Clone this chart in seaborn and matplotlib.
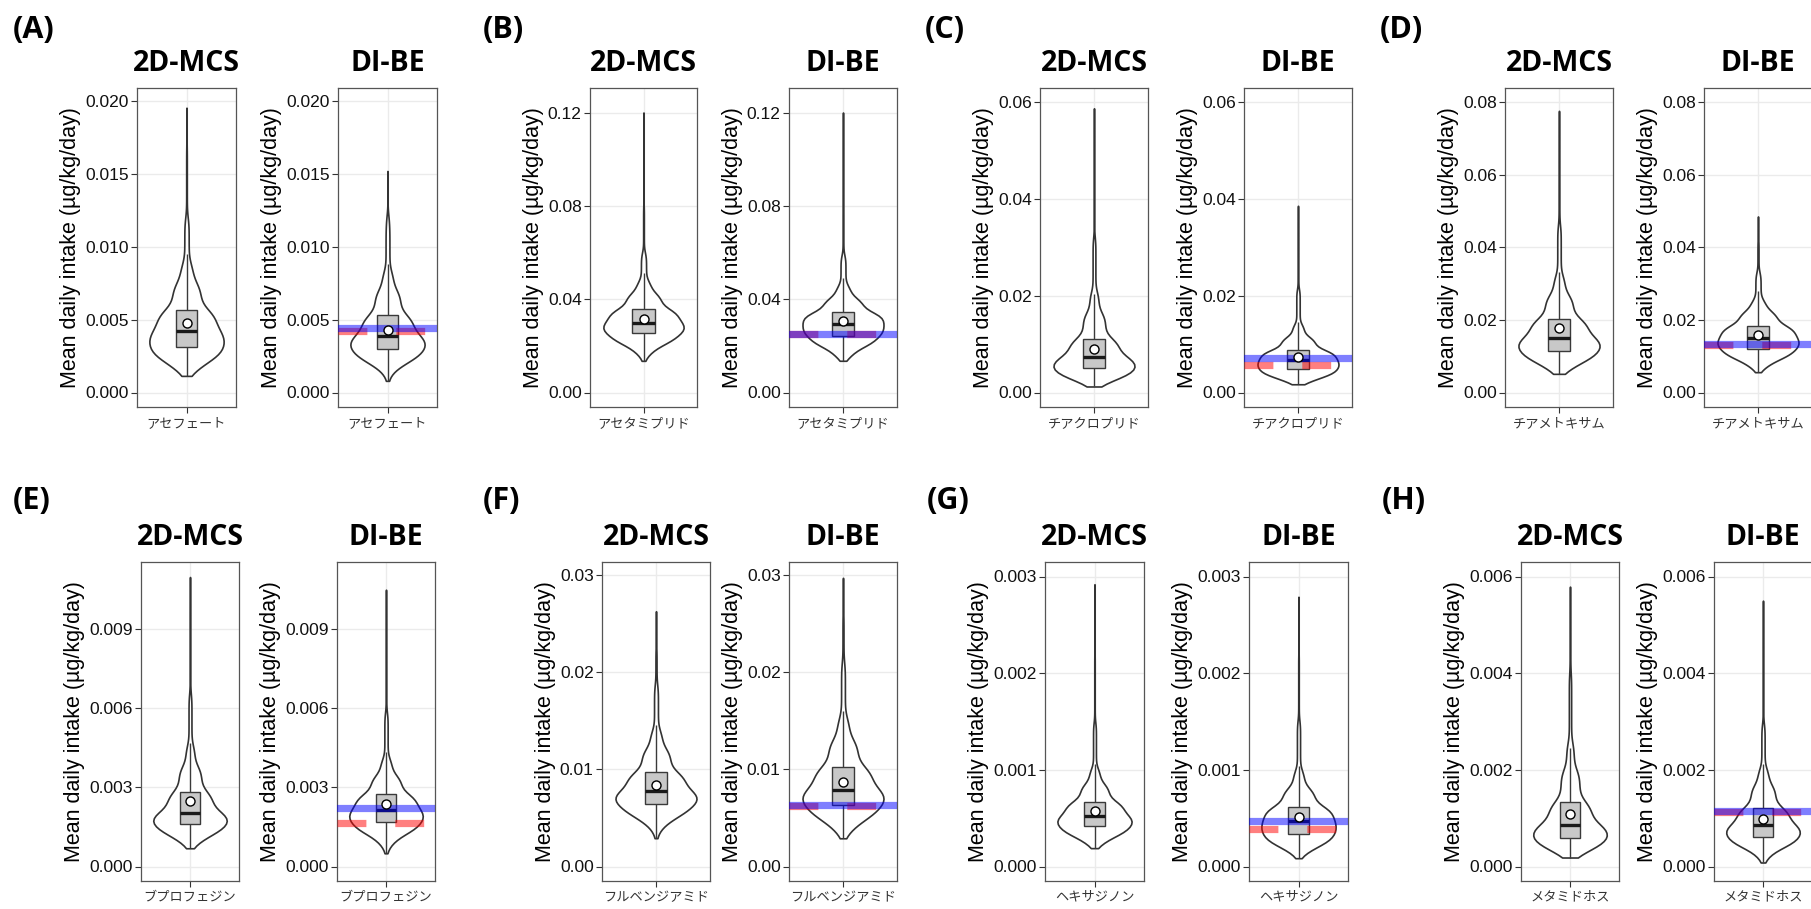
import numpy as np
import pandas as pd
import matplotlib
matplotlib.use("Agg")
import matplotlib.pyplot as plt
import seaborn as sns
from matplotlib.ticker import FixedLocator, FixedFormatter

sns.set_theme(style="ticks")
plt.rcParams["font.family"] = ["Liberation Sans", "Noto Sans CJK JP", "DejaVu Sans"]
plt.rcParams["text.color"] = "black"

# ---------------- data ----------------
panel_labels = ["(A)", "(B)", "(C)", "(D)", "(E)", "(F)", "(G)", "(H)"]
pesticides = ["アセフェート", "アセタミプリド", "チアクロプリド", "チアメトキサム",
              "ブプロフェジン", "フルベンジアミド", "ヘキサジノン", "メタミドホス"]
method_titles = ["2D-MCS", "DI-BE"]

# quantile levels at which the distribution values were read
quantile_levels = [0.0, 0.01, 0.05, 0.10, 0.25, 0.50, 0.75, 0.90, 0.95, 0.99, 0.999, 1.0]

mcs_quantiles = [
    [0.00114, 0.00148, 0.00201, 0.00237, 0.00309, 0.00421, 0.00567, 0.00749, 0.00883, 0.0120, 0.0169, 0.01954],
    [0.01357, 0.01657, 0.01972, 0.02163, 0.0253, 0.0300, 0.0357, 0.0424, 0.0476, 0.0600, 0.0800, 0.1200],
    [0.00124, 0.00197, 0.00288, 0.00352, 0.00495, 0.00722, 0.01113, 0.0164, 0.0207, 0.0320, 0.0522, 0.0586],
    [0.00514, 0.00608, 0.00793, 0.00913, 0.01157, 0.01506, 0.0203, 0.0268, 0.0321, 0.0461, 0.0620, 0.0776],
    [0.00069, 0.000883, 0.00113, 0.00129, 0.0016, 0.00204, 0.00283, 0.00378, 0.00457, 0.00653, 0.0093, 0.01095],
    [0.00291, 0.00402, 0.00486, 0.00539, 0.00641, 0.00771, 0.00967, 0.01207, 0.01394, 0.01866, 0.0225, 0.02623],
    [0.00019, 0.000232, 0.000295, 0.000335, 0.000414, 0.000524, 0.000672, 0.000853, 0.00101, 0.00149, 0.0022, 0.00292],
    [0.000186, 0.000251, 0.00036, 0.000436, 0.0006, 0.00086, 0.00134, 0.0020, 0.00255, 0.0040, 0.0052, 0.00579],
]
dibe_quantiles = [
    [0.0008, 0.00153, 0.00202, 0.00233, 0.00297, 0.00389, 0.0053, 0.00701, 0.00829, 0.01134, 0.0122, 0.0152],
    [0.0136, 0.01538, 0.01858, 0.02055, 0.0243, 0.0293, 0.0343, 0.0404, 0.0457, 0.0589, 0.0800, 0.1200],
    [0.0017, 0.00213, 0.00298, 0.00356, 0.0048, 0.00667, 0.00873, 0.01143, 0.0140, 0.0213, 0.0300, 0.0385],
    [0.0056, 0.00696, 0.00872, 0.00982, 0.0120, 0.0150, 0.0184, 0.0223, 0.0254, 0.0331, 0.0420, 0.0485],
    [0.0005, 0.000844, 0.00115, 0.00133, 0.00167, 0.00214, 0.00273, 0.00344, 0.00406, 0.00582, 0.0082, 0.01047],
    [0.0029, 0.00366, 0.00459, 0.00517, 0.00634, 0.00789, 0.01022, 0.0130, 0.01523, 0.02095, 0.0260, 0.02966],
    [0.000086, 0.000148, 0.000207, 0.000249, 0.000338, 0.000472, 0.00062, 0.000809, 0.00099, 0.00151, 0.0022, 0.00279],
    [0.000083, 0.00022, 0.000378, 0.000453, 0.00062, 0.00086, 0.00122, 0.00168, 0.00202, 0.00295, 0.0045, 0.0055],
]
mcs_means = [0.00475, 0.0317, 0.00893, 0.01773, 0.00248, 0.0084, 0.000579, 0.00109]
dibe_means = [0.0043, 0.0307, 0.00722, 0.0159, 0.00237, 0.00864, 0.000517, 0.00099]
red_values = [0.0042, 0.0251, 0.0057, 0.0131, 0.00166, 0.00617, 0.000393, 0.00113]
blue_values = [0.0044, 0.0251, 0.0072, 0.0134, 0.00222, 0.00634, 0.000466, 0.00115]

y_max = [0.0199, 0.1243, 0.0598, 0.0799, 0.01097, 0.0298, 0.0030, 0.0060]
y_ticks = [
    [0.000, 0.005, 0.010, 0.015, 0.020],
    [0.00, 0.04, 0.08, 0.12],
    [0.00, 0.02, 0.04, 0.06],
    [0.00, 0.02, 0.04, 0.06, 0.08],
    [0.000, 0.003, 0.006, 0.009],
    [0.00, 0.01, 0.02, 0.03],
    [0.000, 0.001, 0.002, 0.003],
    [0.000, 0.002, 0.004, 0.006],
]
y_decimals = [3, 2, 2, 2, 3, 2, 3, 3]
y_label = "Mean daily intake (µg/kg/day)"

# ---------------- layout (pixels of a 1811x909 canvas) ----------------
W, H = 1811, 909
# per group: (mcs_left, mcs_right, dibe_left, dibe_right)
x_layout = [
    (137, 236, 338, 437), (590, 697, 789, 897), (1040, 1148, 1244, 1352), (1505, 1613, 1704, 1812),
    (141, 239, 337, 435), (602, 710, 789, 897), (1045, 1144, 1249, 1348), (1521, 1619, 1714, 1812),
]
row_y = [(88, 407), (562, 881)]
label_pos = [(13, 30), (483, 30), (925, 30), (1380, 30),
             (13, 501), (483, 501), (927, 501), (1382, 501)]

N_SAMPLE = 4001
N_EFF = 500
probs = np.linspace(0, 1, N_SAMPLE)


def sample_from_quantiles(q):
    return np.interp(probs, quantile_levels, q)


def bw_factor(v):
    sd = v.std(ddof=1)
    iqr = np.subtract(*np.percentile(v, [75, 25]))
    return 0.9 * min(sd, iqr / 1.34) * N_EFF ** -0.2 / sd


fig = plt.figure(figsize=(W / 100, H / 100), dpi=100)


def px_axes(l, r, t, b):
    return fig.add_axes([l / W, 1 - b / H, (r - l) / W, (b - t) / H])


def draw_panel(ax, name, q, mean, g, title, red=None, blue=None):
    vals = sample_from_quantiles(q)
    df = pd.DataFrame({"pesticide": [name] * len(vals), "value": vals})
    sns.violinplot(data=df, x="pesticide", y="value", ax=ax, color="white",
                   linecolor="#333333", linewidth=1.2, inner=None, cut=0,
                   width=0.9, bw_method=bw_factor(vals), density_norm="width",
                   saturation=1)
    sns.boxplot(data=df, x="pesticide", y="value", ax=ax, width=0.25,
                color="#C8C8C8", linecolor="#3A3A3A", linewidth=1.0,
                showfliers=False, showcaps=False, saturation=1,
                medianprops=dict(color="#1A1A1A", linewidth=2.4))
    if red is not None:
        ax.axhline(red, color="red", alpha=0.5, lw=5.2, dashes=(4, 4), zorder=5)
    if blue is not None:
        ax.axhline(blue, color="blue", alpha=0.5, lw=5.2, zorder=6)
    sns.pointplot(x=[name], y=[mean], ax=ax, color="black", markers="o",
                  errorbar=None, linestyle="none", markersize=6.5,
                  markerfacecolor="white", markeredgewidth=1.0, zorder=10)

    ymax = y_max[g]
    ax.set_xlim(-0.6, 0.6)
    ax.set_ylim(-0.05 * ymax, 1.05 * ymax)
    ax.yaxis.set_major_locator(FixedLocator(y_ticks[g]))
    ax.yaxis.set_major_formatter(FixedFormatter([f"{t:.{y_decimals[g]}f}" for t in y_ticks[g]]))
    ax.set_xticks([0])
    ax.set_xticklabels([name], fontsize=9.5, family=["Noto Sans CJK JP"], color="#222222")
    ax.set_xlabel("")
    ax.set_ylabel(y_label, fontsize=15.5, color="black", labelpad=3)
    ax.tick_params(axis="y", labelsize=12.5, colors="#333333", labelcolor="#111111",
                   length=4, width=0.8, pad=2)
    ax.tick_params(axis="x", colors="#333333", length=4, width=0.8, pad=3)
    ax.grid(True, color="#EBEBEB", linewidth=1.0)
    ax.set_axisbelow(True)
    for s in ax.spines.values():
        s.set_visible(True)
        s.set_color("#555555")
        s.set_linewidth(0.9)
    ax.set_title(title, fontsize=20.5, fontweight="bold", family=["Open Sans"],
                 color="black", pad=12)


for g in range(8):
    l1, r1, l2, r2 = x_layout[g]
    t, b = row_y[g // 4]
    ax1 = px_axes(l1, r1, t, b)
    draw_panel(ax1, pesticides[g], mcs_quantiles[g], mcs_means[g], g, method_titles[0])
    ax2 = px_axes(l2, r2, t, b)
    draw_panel(ax2, pesticides[g], dibe_quantiles[g], dibe_means[g], g, method_titles[1],
               red=red_values[g], blue=blue_values[g])
    lx, ly = label_pos[g]
    fig.text(lx / W, 1 - ly / H, panel_labels[g], fontsize=22, fontweight="bold",
             family=["Open Sans"], color="black", ha="left", va="center")

fig.savefig("out.png", dpi=100, facecolor="white")
